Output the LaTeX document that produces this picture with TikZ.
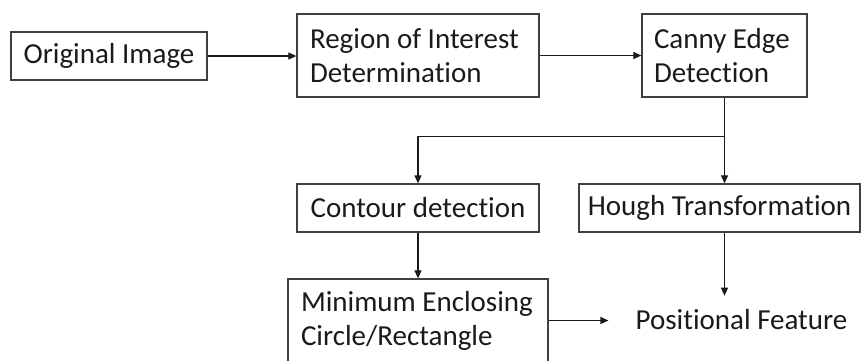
\documentclass[tikz,border=0pt]{standalone}
\usepackage{fontspec}
\setmainfont{Carlito}[RawFeature={-liga}]
\usetikzlibrary{arrows.meta,calc}
\definecolor{edge}{HTML}{404040}
\definecolor{ink}{HTML}{1A1A1A}
\tikzset{
  box/.style={draw=edge, line width=1.3pt, rectangle, text=ink,
    font=\fontsize{29pt}{34pt}\selectfont, inner sep=0pt},
  leftbox/.style={box, align=flush left, minimum height=83pt},
  flow/.style={draw=ink, line width=1.2pt, -{Triangle[length=8pt,width=7pt]}},
  plain/.style={draw=ink, line width=1.2pt}
}
\begin{document}
\begin{tikzpicture}[x=1pt,y=-1pt]
  \useasboundingbox (0,0) rectangle (861,360);
  \clip (0,0) rectangle (861,360);

  % pipeline stages
  \node[box, minimum width=196pt, minimum height=48pt] (orig) at (109,56) {Original Image};
  \node[leftbox, text width=216pt, minimum width=242pt] (roi) at (418,55.5)
    {Region of Interest\\Determination};
  \node[leftbox, text width=141pt, minimum width=165pt] (canny) at (724.5,55.5)
    {Canny Edge\\Detection};
  \node[box, minimum width=242pt, minimum height=48pt] (contour) at (418,208) {Contour detection};
  \node[box, minimum width=281pt, minimum height=48pt] (hough) at (719.5,208) {Hough Transformation};
  \node[leftbox, text width=234pt, minimum width=260pt] (mec) at (418,320.5)
    {Minimum Enclosing\\Circle/Rectangle};
  \node[text=ink, font=\fontsize{29pt}{34pt}\selectfont, anchor=base,
    inner xsep=27pt, inner ysep=13pt] (pos) at (741.5,329) {Positional Feature};

  % connectors
  \draw[flow] (orig.east) -- (orig.east -| roi.west);
  \draw[flow] (roi.east) -- (canny.west);
  \coordinate (split) at ($(canny.south)+(0,39)$);
  \draw[plain] (canny.south) -- (split);
  \draw[flow] (split) -- (split |- hough.north);
  \draw[flow] (split) -| (contour.north);
  \draw[flow] (contour.south) -- (mec.north);
  \draw[flow] (canny.south |- hough.south) -- (canny.south |- pos.north);
  \draw[flow] (mec.east) -- (mec.east -| pos.west);
\end{tikzpicture}
\end{document}
